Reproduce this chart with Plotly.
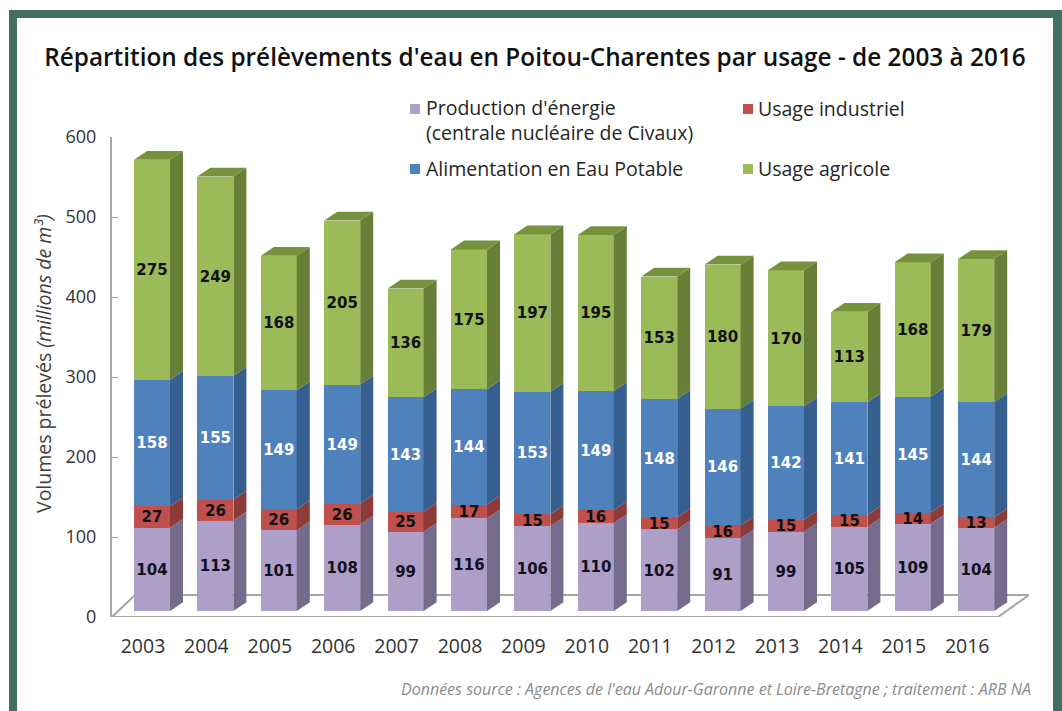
import plotly.graph_objects as go

years = ["2003","2004","2005","2006","2007","2008","2009","2010","2011","2012","2013","2014","2015","2016"]
energie = [104,113,101,108,99,116,106,110,102,91,99,105,109,104]
industriel = [27,26,26,26,25,17,15,16,15,16,15,15,14,13]
potable = [158,155,149,149,143,144,153,149,148,146,142,141,145,144]
agricole = [275,249,168,205,136,175,197,195,153,180,170,113,168,179]
y_ticks = [0,100,200,300,400,500,600]

W, H = 1062, 711
L, R, T, B = 112, 1029, 137, 617      # plot box in pixels
STEP = 63.4; FIRST = 152
BW = 36 / STEP; DX = 13 / STEP; DY = 11.0; BASE = 7.5
LBL = -9 / STEP
TEXT_NUDGE = 2.0
xr = [(L - FIRST) / STEP, (R - FIRST) / STEP]
def px(x): return (x - L) / (R - L)
def py(y): return (B - y) / (B - T)
def dx(p): return (p - FIRST) / STEP

series = [
    ("Production d'énergie", energie, "#AE9FC9", "#756B8C", "#111122"),
    ("Usage industriel", industriel, "#C0504D", "#8C3B39", "#111111"),
    ("Alimentation en Eau Potable", potable, "#4F81BD", "#365F8F", "#FFFFFF"),
    ("Usage agricole", agricole, "#9BBB59", "#687F37", "#111111"),
]
idx = list(range(len(years)))
fig = go.Figure()
cum = [BASE] * len(years)
label_traces = []
for name, vals, front, side, tc in series:
    fig.add_trace(go.Bar(x=idx, y=vals, base=cum, width=BW, name=name,
                         marker=dict(color=front, line=dict(width=0)),
                         showlegend=False, hoverinfo="skip"))
    sx, sy = [], []
    for i, v in enumerate(vals):
        r = i + BW / 2
        sx += [r, r + DX, r + DX, r, r, None]
        sy += [cum[i], cum[i] + DY, cum[i] + v + DY, cum[i] + v, cum[i], None]
    fig.add_trace(go.Scatter(x=sx, y=sy, mode="lines", fill="toself", fillcolor=side,
                             line=dict(width=0, color=side), showlegend=False, hoverinfo="skip"))
    label_traces.append(go.Scatter(
        x=idx, y=[c + v / 2 - TEXT_NUDGE for c, v in zip(cum, vals)], mode="text",
        text=[str(v) for v in vals],
        textfont=dict(family="DejaVu Sans", size=15, color=tc, weight="bold"),
        textposition="middle center", showlegend=False, hoverinfo="skip"))
    cum = [c + v for c, v in zip(cum, vals)]

# top faces
tx, ty = [], []
for i in idx:
    l, r = i - BW / 2, i + BW / 2
    tx += [l, r, r + DX, l + DX, l, None]
    ty += [cum[i], cum[i], cum[i] + DY, cum[i] + DY, cum[i], None]
fig.add_trace(go.Scatter(x=tx, y=ty, mode="lines", fill="toself", fillcolor="#76923C",
                         line=dict(width=0, color="#76923C"), showlegend=False, hoverinfo="skip"))
for t in label_traces:
    fig.add_trace(t)

shapes = [
    dict(type="rect", xref="paper", yref="paper", x0=px(9), x1=px(1062), y0=py(10), y1=py(711),
         fillcolor="#436F63", line_width=0, layer="below"),
    dict(type="rect", xref="paper", yref="paper", x0=px(17), x1=px(1053), y0=py(18), y1=py(711),
         fillcolor="#FFFFFF", line_width=0, layer="below"),
    dict(type="path", xref="x", yref="y", layer="below",
         path=f"M {xr[0]} 0 L {dx(998)} 0 L {xr[1]} 27.5 L {dx(135)} 27.5 Z",
         line=dict(color="#A6A6A6", width=2), fillcolor="rgba(0,0,0,0)"),
]
legend_items = [
    (410, 108, 424, "Production d'énergie<br>(centrale nucléaire de Civaux)", "#AE9FC9", 120.5),
    (743, 108, 756, "Usage industriel", "#C0504D", 108),
    (410, 168, 424, "Alimentation en Eau Potable", "#4F81BD", 168),
    (743, 168, 756, "Usage agricole", "#9BBB59", 168),
]
ann = []
for mx, my, tx0, text, col, ty0 in legend_items:
    shapes.append(dict(type="rect", xref="paper", yref="paper", x0=px(mx), x1=px(mx + 10),
                       y0=py(my - 4), y1=py(my + 6), fillcolor=col, line_width=0))
    ann.append(dict(xref="paper", yref="paper", x=px(tx0), y=py(ty0), text=text, showarrow=False,
                    xanchor="left", yanchor="middle", align="left",
                    font=dict(family="Open Sans", size=19.5, color="#262626")))
ann.append(dict(xref="paper", yref="paper", x=px(43), y=py(364), textangle=-90, showarrow=False,
                text="Volumes prélevés <i>(millions de m³)</i>", xanchor="center", yanchor="middle",
                font=dict(family="Open Sans", size=19.5, color="#404040")))
ann.append(dict(xref="paper", yref="paper", x=px(1033), y=py(689), showarrow=False, xanchor="right",
                yanchor="middle", text="<i>Données source : Agences de l'eau Adour-Garonne et Loire-Bretagne ; traitement : ARB NA</i>",
                font=dict(family="Open Sans", size=16, color="#8C8C8C")))

fig.update_layout(
    width=W, height=H, barmode="overlay", bargap=0,
    margin=dict(l=L, r=W - R, t=T, b=H - B, pad=0),
    paper_bgcolor="#FFFFFF", plot_bgcolor="rgba(0,0,0,0)",
    title=dict(text="Répartition des prélèvements d'eau en Poitou-Charentes par usage - de 2003 à 2016",
               x=535 / W, xanchor="center", y=1 - 57 / H, yanchor="middle",
               font=dict(family="Open Sans", size=24.35, color="#111111", weight=600)),
    shapes=shapes, annotations=ann,
    xaxis=dict(range=xr, tickmode="array", tickvals=[i + LBL for i in idx], ticktext=years,
               showgrid=False, zeroline=False, showline=False, ticks="", ticklabelstandoff=15,
               tickfont=dict(family="Open Sans", size=19.5, color="#333333"), fixedrange=True),
    yaxis=dict(range=[0, 600], tickmode="array", tickvals=y_ticks, showgrid=False, zeroline=False,
               showline=True, linecolor="#A6A6A6", linewidth=2, ticks="inside", ticklen=6,
               tickcolor="#A6A6A6", tickwidth=1, ticklabelstandoff=10,
               tickfont=dict(family="Open Sans", size=18, color="#333333"), fixedrange=True),
)
fig.write_html("out.html", config={"displayModeBar": False},
               post_script="document.body.style.margin='0';document.body.style.overflow='hidden';")
